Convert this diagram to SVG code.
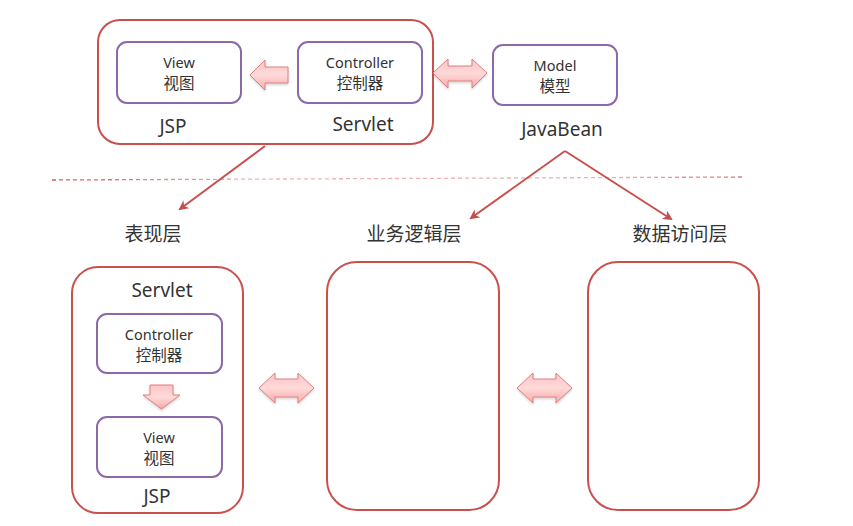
<svg xmlns="http://www.w3.org/2000/svg" width="853" height="526" viewBox="0 0 853 526">
<defs>
<linearGradient id="bg" x1="0" y1="0" x2="0" y2="1">
<stop offset="0" stop-color="#fbc4c4"/>
<stop offset="0.5" stop-color="#ffd9d9"/>
<stop offset="1" stop-color="#f7a9a9"/>
</linearGradient>
<linearGradient id="dash" x1="0" y1="0" x2="1" y2="0">
<stop offset="0" stop-color="#d45a5a"/>
<stop offset="0.3" stop-color="#f0b4b4"/>
<stop offset="0.8" stop-color="#efb0b0"/>
<stop offset="1" stop-color="#dc7a7a"/>
</linearGradient>
<marker id="ah" viewBox="0 0 10 10" refX="8" refY="5" markerWidth="5" markerHeight="5" orient="auto" markerUnits="strokeWidth">
<path d="M0,0 L10,5 L0,10 L3,5 Z" fill="#c0504d"/>
</marker>
<filter id="sh" x="-20%" y="-20%" width="140%" height="160%">
<feDropShadow dx="0" dy="1.5" stdDeviation="1" flood-color="#000" flood-opacity="0.18"/>
</filter>
</defs>
<style>
.red{fill:#fff;stroke:#c9504d;stroke-width:2}
.pur{fill:#fff;stroke:#8a6aaa;stroke-width:2}
.blk{fill:url(#bg);stroke:#de7f7f;stroke-width:1;filter:url(#sh)}
.t{font-family:"Noto Sans","Noto Sans CJK SC",sans-serif;fill:#333;text-anchor:middle}
.s{font-size:14.5px}
.c{font-size:15.5px}
.l{font-size:19px}
.ln{stroke:#c9504d;stroke-width:2;fill:none;marker-end:url(#ah)}
</style>
<rect width="853" height="526" fill="#fff"/>

<g id="mvc-top">
<rect class="red" x="98" y="20" width="335" height="124" rx="22"/>
<text class="t l" x="173" y="133">JSP</text>
<text class="t l" x="363" y="131">Servlet</text>
</g>
<g id="view-top">
<rect class="pur" x="117" y="42" width="124" height="61" rx="10"/>
<text class="t s" x="179" y="68">View</text>
<text class="t c" x="179" y="89">视图</text>
</g>
<g id="controller-top">
<rect class="pur" x="298" y="42" width="124" height="61" rx="10"/>
<text class="t s" x="360" y="68">Controller</text>
<text class="t c" x="360" y="89">控制器</text>
</g>
<g id="model">
<rect class="pur" x="493" y="45" width="124" height="60" rx="10"/>
<text class="t s" x="555" y="71">Model</text>
<text class="t c" x="555" y="92">模型</text>
<text class="t l" x="562" y="136">JavaBean</text>
</g>

<g id="label-presentation"><text class="t l" x="153" y="241">表现层</text></g>
<g id="label-business"><text class="t l" x="414" y="241">业务逻辑层</text></g>
<g id="label-data"><text class="t l" x="680" y="241">数据访问层</text></g>

<g id="presentation">
<rect class="red" x="72" y="267" width="171" height="246" rx="26"/>
<text class="t l" x="162" y="297">Servlet</text>
<text class="t l" x="157" y="503">JSP</text>
</g>
<g id="controller-bottom">
<rect class="pur" x="97" y="314" width="125" height="59" rx="10"/>
<text class="t s" x="159" y="340">Controller</text>
<text class="t c" x="159" y="361">控制器</text>
</g>
<g id="view-bottom">
<rect class="pur" x="97" y="417" width="125" height="60" rx="10"/>
<text class="t s" x="159" y="443">View</text>
<text class="t c" x="159" y="464">视图</text>
</g>
<g id="business">
<rect class="red" x="327" y="262" width="172" height="248" rx="30"/>
</g>
<g id="data">
<rect class="red" x="588" y="262" width="171" height="248" rx="30"/>
</g>

<g id="connectors">
<path d="M52,180 L742,177" stroke="url(#dash)" stroke-width="1.3" stroke-dasharray="4,3" fill="none"/>
<path class="ln" d="M265,146 L180,209"/>
<path class="ln" d="M565,151 L471,218"/>
<path class="ln" d="M565,151 L671,219"/>
<path class="blk" d="M250,75 L265,60 L265,67 L288,67 L288,83 L265,83 L265,90 Z"/>
<path class="blk" d="M433,73 L448,59 L448,66 L472,66 L472,59 L487,73 L472,88 L472,81 L448,81 L448,88 Z"/>
<path class="blk" d="M150,385 L173,385 L173,395 L180,395 L161.5,409 L143,395 L150,395 Z"/>
<path class="blk" d="M259,388 L275,373 L275,379 L298,379 L298,373 L314,388 L298,403 L298,397 L275,397 L275,403 Z"/>
<path class="blk" d="M517,388 L533,373 L533,379 L556,379 L556,373 L572,388 L556,403 L556,397 L533,397 L533,403 Z"/>
</g>
</svg>
